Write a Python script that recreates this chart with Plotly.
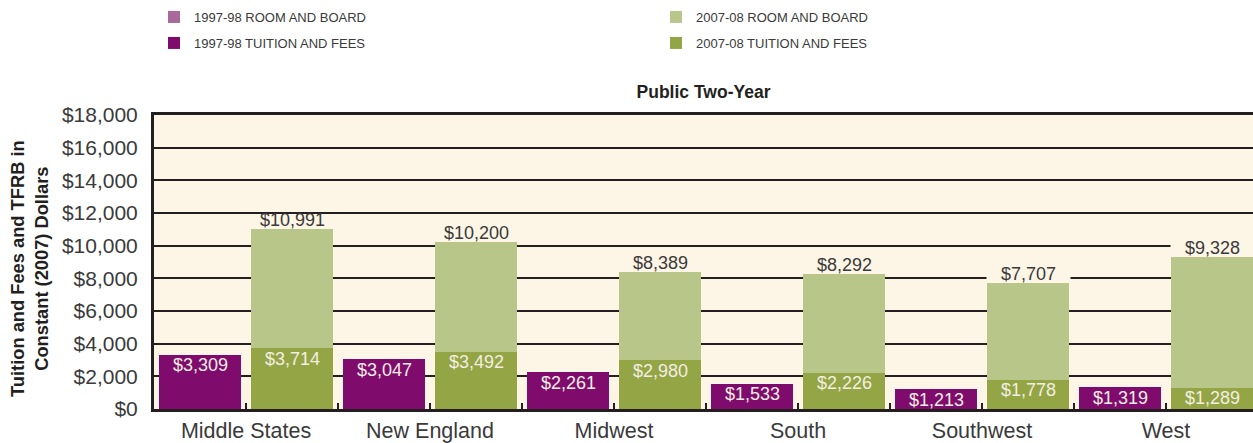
import plotly.graph_objects as go

regions = ["Middle States", "New England", "Midwest", "South", "Southwest", "West"]
tuition_9798 = [3309, 3047, 2261, 1533, 1213, 1319]
room_board_9798 = [0, 0, 0, 0, 0, 0]
tuition_0708 = [3714, 3492, 2980, 2226, 1778, 1289]
room_board_0708 = [7277, 6708, 5409, 6066, 5929, 8039]
y_ticks = [0, 2000, 4000, 6000, 8000, 10000, 12000, 14000, 16000, 18000]

C_RB97 = "#a8699b"
C_TF97 = "#7f0c6c"
C_RB07 = "#b9c68a"
C_TF07 = "#93a545"
BG = "#fdf5e5"
DARK = "#231f20"
TXT = "#3a3a3a"
FONT = "Liberation Sans, Arial"

idx = list(range(len(regions)))
x97 = [i - 0.25 for i in idx]
x07 = [i + 0.25 for i in idx]
totals_0708 = [a + b for a, b in zip(tuition_0708, room_board_0708)]
W = 0.45

fig = go.Figure()
fig.add_trace(go.Bar(x=x97, y=tuition_9798, width=W, marker_color=C_TF97,
                     name="1997-98 TUITION AND FEES", legend="legend2"))
fig.add_trace(go.Bar(x=x97, y=room_board_9798, width=W, marker_color=C_RB97,
                     name="1997-98 ROOM AND BOARD", legend="legend"))
fig.add_trace(go.Bar(x=x07, y=tuition_0708, width=W, marker_color=C_TF07,
                     name="2007-08 TUITION AND FEES", legend="legend2"))
fig.add_trace(go.Bar(x=x07, y=room_board_0708, width=W, marker_color=C_RB07,
                     name="2007-08 ROOM AND BOARD", legend="legend"))
for tr in fig.data:
    tr.marker.line.width = 0
    tr.hoverinfo = "skip"

ann = []
for i in idx:
    ann.append(dict(x=x97[i], y=tuition_9798[i], text=f"${tuition_9798[i]:,}",
                    xref="x", yref="y", showarrow=False, yanchor="middle", yshift=-10.5,
                    font=dict(size=18, color="#f3eee2", family=FONT)))
    ann.append(dict(x=x07[i], y=tuition_0708[i], text=f"${tuition_0708[i]:,}",
                    xref="x", yref="y", showarrow=False, yanchor="middle", yshift=-10.5,
                    font=dict(size=18, color="#f3eee2", family=FONT)))
    # cream label backing above the 2007-08 bar (hides gridlines behind the total)
    ann.append(dict(x=x07[i], y=totals_0708[i], text=" ", xref="x", yref="y",
                    showarrow=False, yanchor="bottom", xanchor="center",
                    width=83, height=13, borderpad=0, bgcolor=BG,
                    font=dict(size=8)))
    ann.append(dict(x=x07[i], y=totals_0708[i], text=f"${totals_0708[i]:,}",
                    xref="x", yref="y", showarrow=False, yanchor="middle", yshift=9,
                    font=dict(size=18, color=TXT, family=FONT)))

ann.append(dict(text="<b>Tuition and Fees and TFRB in<br>Constant (2007) Dollars</b>",
                xref="paper", yref="paper", x=(30 - 154) / 1099, y=0.5 - 7 / 296,
                xanchor="center", yanchor="middle", textangle=-90, showarrow=False,
                font=dict(size=18.3, color=DARK, family=FONT)))

tickvals_x = [i * 0.5 - 0.5 for i in range(13)]
ticktext_x = [regions[int(v)] if v >= 0 and float(v).is_integer() else "" for v in tickvals_x]

legend_font = dict(size=13, color=TXT, family=FONT)

fig.update_layout(
    width=1253, height=443,
    margin=dict(l=154, r=0, t=115, b=32),
    paper_bgcolor="white", plot_bgcolor=BG,
    barmode="stack",
    font=dict(family=FONT, color=TXT),
    title=dict(text="<b>Public Two-Year</b>", x=0.5, xref="paper", xanchor="center",
               y=1 - 92 / 443, yref="container", yanchor="middle",
               font=dict(size=17.5, color=DARK, family=FONT)),
    annotations=ann,
    showlegend=True,
    legend=dict(orientation="h", xref="container", yref="container",
                x=154 / 1253, y=1 - 2 / 443, xanchor="left", yanchor="top",
                entrywidth=457, font=legend_font, bgcolor="rgba(0,0,0,0)",
                traceorder="normal", itemclick=False),
    legend2=dict(orientation="h", xref="container", yref="container",
                 x=154 / 1253, y=1 - 28 / 443, xanchor="left", yanchor="top",
                 entrywidth=457, font=legend_font, bgcolor="rgba(0,0,0,0)",
                 traceorder="normal", itemclick=False),
    xaxis=dict(range=[-0.5, -0.5 + 1099 / 184], tickmode="array",
               tickvals=tickvals_x, ticktext=ticktext_x,
               ticks="inside", ticklen=6, tickwidth=2, tickcolor=DARK,
               showgrid=False, zeroline=False, showline=True, linewidth=3,
               linecolor=DARK, mirror=True,
               tickfont=dict(size=21.5, color=TXT)),
    yaxis=dict(range=[0, 18000], tickmode="array", tickvals=y_ticks,
               ticktext=[f"${v:,}" for v in y_ticks],
               showgrid=True, gridcolor=DARK, gridwidth=2, zeroline=False,
               showline=True, linewidth=3, linecolor=DARK,
               ticks="", ticklabelstandoff=9,
               tickfont=dict(size=21, color=TXT)),
)

fig.write_html("out.html", config={"displayModeBar": False},
               post_script="document.body.style.margin='0';document.body.style.overflow='hidden';")
